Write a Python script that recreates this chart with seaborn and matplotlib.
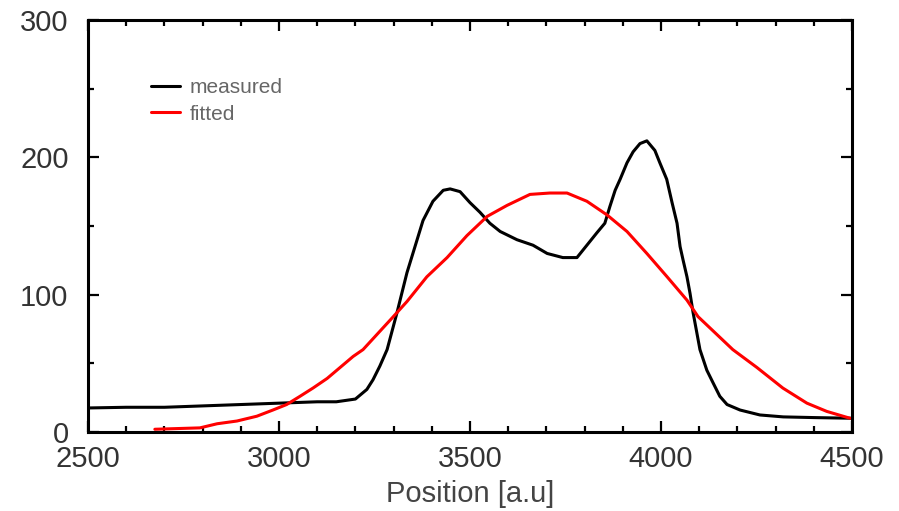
import numpy as np
import pandas as pd
import seaborn as sns
import matplotlib
matplotlib.use("Agg")
import matplotlib.pyplot as plt
from matplotlib.ticker import MultipleLocator

# measured profile
measured_x = [2500, 2600, 2700, 2800, 2900, 3000, 3100, 3150, 3200, 3230, 3246, 3264,
              3283, 3309, 3317, 3335, 3356, 3377, 3403, 3430, 3448, 3474, 3500, 3526,
              3552, 3579, 3623, 3665, 3702, 3743, 3780, 3806, 3832, 3853, 3866, 3880,
              3893, 3911, 3927, 3945, 3963, 3984, 3997, 4015, 4029, 4042, 4050, 4058,
              4068, 4076, 4084, 4102, 4120, 4136, 4154, 4173, 4207, 4259, 4320, 4400, 4500]
measured_y = [17.5, 18, 18, 19, 20, 21, 22, 22, 24, 31, 38, 48,
              60, 87, 96, 116, 135, 154, 168, 176, 177, 175, 167, 160,
              152, 146, 140, 136, 130, 127, 127, 136, 145, 152, 164, 176,
              184, 196, 204, 210, 212, 205, 196, 184, 167, 152, 135, 125,
              113, 101, 87, 60, 45, 36, 26, 20, 16, 12.4, 11, 10.5, 10]

# fitted curve
fitted_x = [2675, 2793, 2838, 2890, 2942, 2984, 3020, 3055, 3089, 3126, 3160, 3194,
            3220, 3296, 3335, 3387, 3440, 3492, 3545, 3597, 3657, 3709, 3754, 3806,
            3859, 3911, 3963, 4016, 4068, 4097, 4188, 4251, 4319, 4382, 4434, 4495]
fitted_y = [2, 3, 6, 8, 11.5, 16, 20, 26, 32, 39, 47, 55,
            60, 83, 95, 113, 127, 143, 157, 165, 173, 174, 174, 168,
            158, 146, 130, 113, 96, 84, 60, 47, 32, 21, 15, 10]

measured = pd.DataFrame({"x": measured_x, "y": measured_y})
fitted = pd.DataFrame({"x": fitted_x, "y": fitted_y})

sns.set_style("ticks")
plt.rcParams["font.family"] = ["Liberation Sans", "DejaVu Sans"]

fig = plt.figure(figsize=(8.99, 5.11), dpi=100)
ax = fig.add_axes([0.0979, 0.1546, 0.8498, 0.8063])

sns.lineplot(data=measured, x="x", y="y", ax=ax, color="black", lw=2.2,
             label="measured", sort=False)
sns.lineplot(data=fitted, x="x", y="y", ax=ax, color="#ff0000", lw=2.2,
             label="fitted", sort=False)

ax.set_xlim(2500, 4500)
ax.set_ylim(0, 300)
ax.xaxis.set_major_locator(MultipleLocator(500))
ax.xaxis.set_minor_locator(MultipleLocator(100))
ax.yaxis.set_major_locator(MultipleLocator(100))
ax.yaxis.set_minor_locator(MultipleLocator(50))
ax.tick_params(which="both", direction="in", top=True, right=True,
               width=1.6, color="black", labelcolor="#333333", labelsize=21)
ax.tick_params(which="major", length=8)
ax.tick_params(which="minor", length=4)
ax.tick_params(axis="x", pad=9.5)
ax.tick_params(axis="y", pad=14)
for s in ax.spines.values():
    s.set_linewidth(2.2)
    s.set_color("black")

ax.set_xlabel("Position [a.u]", fontsize=21, color="#444444", labelpad=5)
ax.set_ylabel("")

leg = ax.legend(loc="upper left", bbox_to_anchor=(0.058, 0.905), frameon=False,
                fontsize=15, handlelength=1.4, handletextpad=0.45, labelspacing=0.38)
for t in leg.get_texts():
    t.set_color("#666666")

fig.savefig("out.png", dpi=100)
